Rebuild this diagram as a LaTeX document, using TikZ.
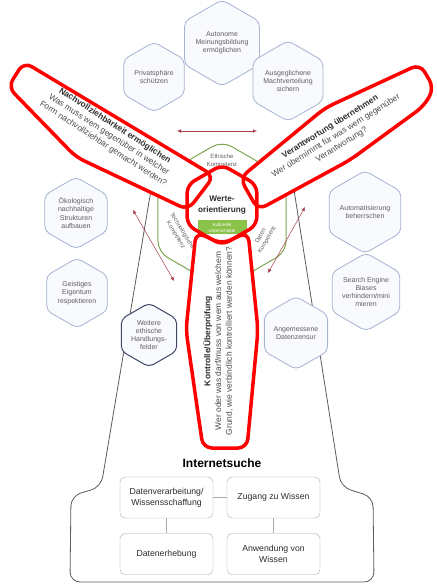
\documentclass[tikz,border=0pt]{standalone}
\usepackage{fontspec}
\setmainfont{Liberation Sans}
\usepackage{tikz}
\usetikzlibrary{arrows.meta,positioning,shapes.geometric}

\definecolor{hexline}{RGB}{165,178,208}
\definecolor{hexfill}{RGB}{249,250,254}
\definecolor{hexnavy}{RGB}{62,72,100}
\definecolor{hextext}{RGB}{95,95,95}
\definecolor{kompgreen}{RGB}{125,165,80}
\definecolor{bandgreen}{RGB}{139,195,74}
\definecolor{markred}{RGB}{255,0,0}
\definecolor{arrowred}{RGB}{170,60,75}
\definecolor{towergrey}{RGB}{90,90,90}
\definecolor{boxline}{RGB}{170,170,170}
\definecolor{textdark}{RGB}{45,45,45}

\begin{document}
\begin{tikzpicture}[x=1pt,y=-1pt,
  hexa/.style={regular polygon,regular polygon sides=6,shape border rotate=30,draw=hexline,fill=hexfill,line width=0.8pt,rounded corners=5pt,inner sep=0pt,align=center,text=hextext,font=\fontsize{7}{8.3}\selectfont},
  hexdark/.style={hexa,draw=hexnavy,line width=1pt},
  kompring/.style={regular polygon,regular polygon sides=6,shape border rotate=30,draw=kompgreen,fill=white,line width=1pt,rounded corners=11pt,inner sep=0pt},
  werte/.style={regular polygon,regular polygon sides=6,shape border rotate=30,fill=white,inner sep=0pt,align=center,text=textdark,font=\fontsize{8.2}{11}\selectfont\bfseries},
  lab/.style={text=hextext,align=center,inner sep=0pt,font=\fontsize{6}{7.5}\selectfont},
  bandtxt/.style={text=white,inner sep=0pt,font=\fontsize{4.5}{5}\selectfont},
  bladetxt/.style={align=center,text=hextext!80!black,inner sep=0pt,font=\fontsize{8.4}{10.7}\selectfont},
  bladeshape/.style={rounded corners=9pt},
  markline/.style={draw=markred,line width=3.5pt,line join=round,rounded corners=9pt},
  relarr/.style={{Latex[length=4pt,width=3.5pt]}-{Latex[length=4pt,width=3.5pt]},draw=arrowred,line width=0.5pt},
  towerline/.style={draw=towergrey,line width=0.8pt,rounded corners=10pt},
  box/.style={draw=boxline,rounded corners=5pt,minimum width=93pt,minimum height=41pt,align=center,fill=white,text=textdark,inner sep=1pt,font=\fontsize{8.7}{10.5}\selectfont}
]
\useasboundingbox (0,0) rectangle (436,585);

% Turm
\draw[towerline] (151,190) -- (101,487) -- (71,496) -- (70,582) -- (374,582) -- (373,497) -- (341,487) -- (294,190);

% Kompetenzen
\node[kompring,minimum size=148pt] (komp) at (222,215) {};
\node[lab] (ethik) at (222,161) {Ethische\\Kompetenz};
\node[lab,rotate=-58] (techn) at (179,233) {Technologische\\Kompetenz};
\node[lab,rotate=60] (daten) at (264,238) {Daten\\Kompetenz};

% Handlungsfelder
\node[hexa,minimum size=80pt] (autonom) at (222,43) {Autonome\\Meinungsbildung\\ermöglichen};
\node[hexa,minimum size=70pt] (privat) at (154,77) {Privatsphäre\\schützen};
\node[hexa,minimum size=70pt] (macht) at (288,81) {Ausgeglichene\\Machtverteilung\\sichern};
\node[hexa,minimum size=72pt] (oeko) at (76,213) {Ökologisch\\nachhaltige\\Strukturen\\aufbauen};
\node[hexa,minimum size=70pt] (geist) at (77,293) {Geistiges\\Eigentum\\respektieren};
\node[hexa,minimum size=72pt] (automat) at (365,212) {Automatisierung\\beherrschen};
\node[hexa,minimum size=72pt] (search) at (366,292) {Search Engine\\Biases\\verhindern/mini\\mieren};
\node[hexdark,minimum size=64pt] (weitere) at (149,335) {Weitere\\ethische\\Handlungs-\\felder};
\node[hexa,minimum size=72pt] (zensur) at (296,333) {Angemessene\\Datenzensur};

% Pfeile
\coordinate (pfo1) at (177,131);
\coordinate (pfo2) at (257,131);
\coordinate (pfl1) at (133,210);
\coordinate (pfl2) at (174,281);
\coordinate (pfr1) at (305,207);
\coordinate (pfr2) at (268,273);
\draw[relarr] (pfo1) -- (pfo2);
\draw[relarr] (pfl1) -- (pfl2);
\draw[relarr] (pfr1) -- (pfr2);

% Fluegel
\coordinate (nv1) at (24,62);
\coordinate (nv2) at (8,87);
\coordinate (nv3) at (76,157);
\coordinate (nv4) at (188,210);
\coordinate (nv5) at (214,176);
\coordinate (vw1) at (240,178);
\coordinate (vw2) at (325,108);
\coordinate (vw3) at (420,64);
\coordinate (vw4) at (434,88);
\coordinate (vw5) at (424,106);
\coordinate (vw6) at (350,160);
\coordinate (vw7) at (258,210);
\coordinate (ko1) at (196,232);
\coordinate (ko2) at (222,244);
\coordinate (ko3) at (248,232);
\coordinate (ko4) at (258,330);
\coordinate (ko5) at (247,448);
\coordinate (ko6) at (203,448);
\coordinate (ko7) at (186,330);
\fill[white,bladeshape] (nv1) -- (nv2) -- (nv3) -- (nv4) -- (nv5) -- cycle;
\fill[white,bladeshape] (vw1) -- (vw2) -- (vw3) -- (vw4) -- (vw5) -- (vw6) -- (vw7) -- cycle;
\fill[white,bladeshape] (ko1) -- (ko2) -- (ko3) -- (ko4) -- (ko5) -- (ko6) -- (ko7) -- cycle;

% Werteorientierung
\node[werte,minimum size=80pt] (werteo) at (222,205) {Werte-\\orientierung};
\fill[bandgreen] (198,220) rectangle (247,234);
\node[bandtxt] (kultur) at (222,225) {Kulturelle};
\node[bandtxt] (untersch) at (222,230.5) {Unterschiede};

\draw[markline] (nv1) -- (nv2) -- (nv3) -- (nv4) -- (nv5) -- cycle;
\draw[markline] (vw1) -- (vw2) -- (vw3) -- (vw4) -- (vw5) -- (vw6) -- (vw7) -- cycle;
\draw[markline] (ko1) -- (ko2) -- (ko3) -- (ko4) -- (ko5) -- (ko6) -- (ko7) -- cycle;
\draw[markline,rounded corners=8pt] (werteo.corner 1) -- (werteo.corner 2) -- (werteo.corner 3) -- (werteo.corner 4) -- (werteo.corner 5) -- (werteo.corner 6) -- cycle;

\node[bladetxt,rotate=-33] (nachv) at (109,135) {\textbf{\color{textdark}Nachvollziehbarkeit ermöglichen}\\Was muss wem gegenüber in welcher\\Form nachvollziehbar gemacht werden?};
\node[bladetxt,rotate=32] (verantw) at (336,136) {\textbf{\color{textdark}Verantwortung übernehmen}\\Wer übernimmt für was wem gegenüber\\Verantwortung?};
\node[bladetxt,rotate=90] (kontr) at (218,341) {\textbf{\color{textdark}Kontrolle/Überprüfung}\\Wer oder was darf/muss von wem aus welchem\\Grund, wie verbindlich kontrolliert werden können?};

% Internetsuche
\node[text=black,font=\fontsize{12}{14}\selectfont\bfseries] (isuche) at (222,463) {Internetsuche};
\node[box] (dverarb) at (166.5,497.5) {Datenverarbeitung/\\Wissensschaffung};
\node[box] (zugang) at (273.5,497.5) {Zugang zu Wissen};
\node[box] (derheb) at (166.5,554) {Datenerhebung};
\node[box] (anwend) at (273.5,554) {Anwendung von\\Wissen};
\draw[boxline] (dverarb) -- (zugang);
\draw[boxline] (dverarb) -- (derheb);
\draw[boxline] (zugang) -- (anwend);
\end{tikzpicture}
\end{document}
